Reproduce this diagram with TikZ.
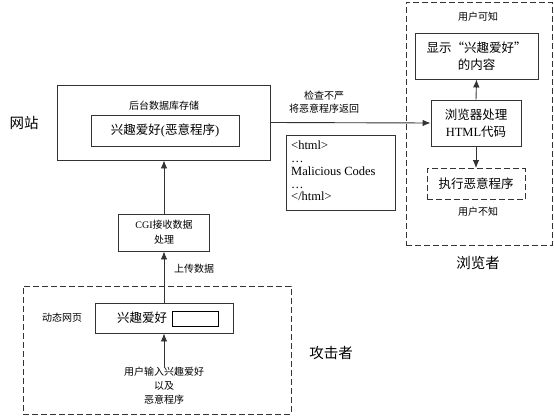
\documentclass[tikz,border=0pt]{standalone}
\usepackage{fontspec}
\setmainfont{Noto Sans CJK SC}
\newfontfamily\lat{Liberation Serif}
\usetikzlibrary{arrows.meta}
\tikzset{
 box/.style={draw=black!80, line width=0.9pt, inner sep=0pt, align=center},
 dbox/.style={box, dash pattern=on 6pt off 3pt},
 arr/.style={draw=black!80, line width=0.9pt, -{Latex[length=8pt,width=6.5pt]}},
 lblsmall/.style={font=\fontsize{10}{13.5}\selectfont, align=center, inner sep=0pt},
 txtmid/.style={font=\fontsize{12.5}{17}\selectfont},
 txtbig/.style={font=\fontsize{14.5}{17}\selectfont, inner sep=0pt},
}
\begin{document}
\begin{tikzpicture}[x=1pt,y=-1pt]
\useasboundingbox[fill=white] (0,0) rectangle (554,417);

% website
\node[box, minimum width=213pt, minimum height=75pt] (web) at (163.5,122.5) {};
\node[lblsmall] (webl) at (164,106) {后台数据库存储};
\node[box, txtmid, minimum width=148pt, minimum height=31pt] (store) at (165,130.5) {兴趣爱好{\lat(}恶意程序{\lat)}};
\node[txtbig] (site) at (24,123) {网站};

% browser
\node[dbox, minimum width=146pt, minimum height=243pt] (brw) at (479,123.5) {};
\node[lblsmall] (known) at (478,17) {用户可知};
\node[box, txtmid, minimum width=123pt, minimum height=46pt] (disp) at (476.5,56) {显示“兴趣爱好”\\的内容};
\node[box, txtmid, minimum width=90pt, minimum height=46pt] (proc) at (476,123) {浏览器处理\\{\lat HTML}代码};
\node[dbox, txtmid, minimum width=98pt, minimum height=31pt] (exec) at (476,184) {执行恶意程序};
\node[lblsmall] (unknown) at (478,212) {用户不知};
\node[txtbig] (brwl) at (478,263) {浏览者};
\draw[arr] (proc.north) -- (disp.south);
\draw[arr] (proc.south) -- (exec.north);

% return
\draw[arr] (web.east) -- (proc.west);
\node[lblsmall, font=\fontsize{10}{13}\selectfont] (chk) at (324,102) {检查不严\\将恶意程序返回};
\node[box, minimum width=109pt, minimum height=75pt] (html) at (340.5,172.5) {};
\node[anchor=west, align=left, inner sep=0pt, font=\lat\fontsize{12.5}{12.8}\selectfont] (htmlt) at (291,171) {<html>\\…\\Malicious Codes\\…\\</html>};

% CGI
\node[box, lblsmall, font=\fontsize{10}{15}\selectfont, minimum width=91pt, minimum height=37pt] (cgi) at (164,232.5) {{\lat CGI}接收数据\\处理};
\draw[arr] (cgi.north) -- (cgi.north |- web.south);
\node[lblsmall] (up) at (194,269) {上传数据};

% attacker
\node[dbox, minimum width=268pt, minimum height=128pt] (att) at (157,350) {};
\node[lblsmall] (dynl) at (62,318) {动态网页};
\node[box, minimum width=138pt, minimum height=30pt] (dyn) at (164,318) {};
\node[txtmid, inner sep=0pt] (dynt) at (142,318) {兴趣爱好};
\node[draw=black, line width=1pt, minimum width=46pt, minimum height=15pt, inner sep=0pt] (field) at (195,318.5) {};
\draw[arr] (dyn.north) -- (cgi.south);
\node[lblsmall, font=\fontsize{10}{14}\selectfont] (inp) at (164,386) {用户输入兴趣爱好\\以及\\恶意程序};
\draw[arr] ([yshift=-1pt]inp.north) -- (dyn.south);
\node[txtbig] (attl) at (331,353) {攻击者};
\end{tikzpicture}
\end{document}
